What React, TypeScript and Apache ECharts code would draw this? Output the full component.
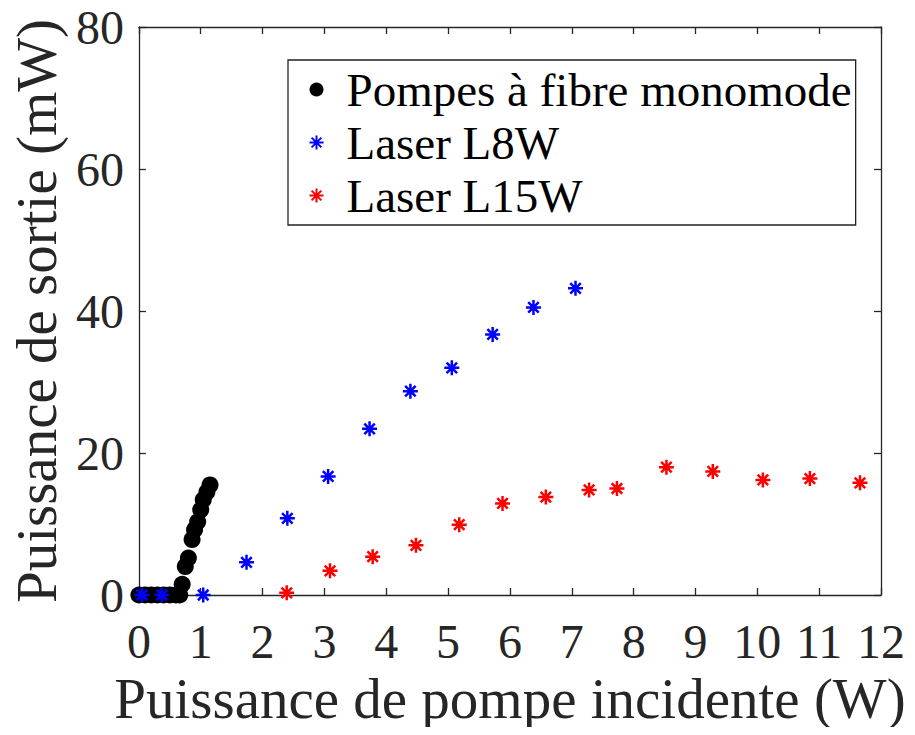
import React, { useEffect, useRef } from "react";
import * as echarts from "echarts";

const fibreX = [0, 0.1, 0.2, 0.3, 0.4, 0.5, 0.6, 0.66, 0.7, 0.75, 0.8, 0.86, 0.9, 0.95, 1.0, 1.04, 1.1, 1.15];
const fibreY = [0, 0, 0, 0, 0, 0, 0, 0, 1.5, 4.0, 5.2, 7.8, 9.2, 10.3, 12.0, 13.4, 14.5, 15.5];

const l8X = [0.05, 0.37, 1.04, 1.74, 2.4, 3.06, 3.73, 4.39, 5.06, 5.72, 6.38, 7.06];
const l8Y = [0, 0, 0, 4.6, 10.8, 16.7, 23.4, 28.7, 32.0, 36.7, 40.5, 43.2];

const l15X = [2.39, 3.09, 3.78, 4.48, 5.18, 5.88, 6.58, 7.28, 7.73, 8.53, 9.28, 10.09, 10.85, 11.66];
const l15Y = [0.3, 3.4, 5.4, 7.0, 9.9, 12.9, 13.8, 14.8, 15.0, 18.0, 17.4, 16.2, 16.4, 15.8];

const xTicks = [0, 1, 2, 3, 4, 5, 6, 7, 8, 9, 10, 11, 12];
const yTicks = [0, 20, 40, 60, 80];

const seriesNames = ["Pompes à fibre monomode", "Laser L8W", "Laser L15W"];
const xTitle = "Puissance de pompe incidente (W)";
const yTitle = "Puissance de sortie (mW)";

const STAR = "path://M0,-10L0,10M-10,0L10,0M-7,-7L7,7M-7,7L7,-7";
const FONT = "Liberation Serif";
const AXIS = "#262626";

const zip = (xs: number[], ys: number[]) => xs.map((x, i) => [x, ys[i]]);

export default function App() {
  const ref = useRef<HTMLDivElement>(null);
  useEffect(() => {
    if (!ref.current) return;
    const chart = echarts.init(ref.current, undefined, { renderer: "svg" });
    const common = {
      axisLine: { show: true, onZero: false, lineStyle: { color: AXIS, width: 1.3 } },
      axisTick: { show: true, inside: true, length: 7, lineStyle: { color: AXIS, width: 1.3 } },
      splitLine: { show: false },
    };
    chart.setOption({
      animation: false,
      backgroundColor: "#fff",
      textStyle: { fontFamily: FONT },
      grid: { left: 137, right: 34, top: 27, bottom: 140, containLabel: false },
      legend: {
        orient: "vertical",
        left: 288,
        top: 60,
        padding: [6, 4, 6, 19],
        borderColor: "#222",
        borderWidth: 1.3,
        backgroundColor: "#fff",
        itemGap: 6,
        itemWidth: 14,
        itemHeight: 14,
        textStyle: { fontFamily: FONT, fontSize: 47, color: "#000", padding: [0, 0, 0, 18] },
        data: [
          { name: seriesNames[0], icon: "circle", itemStyle: { color: "#000" } },
          { name: seriesNames[1], icon: STAR, itemStyle: { color: "none", borderColor: "#0000ff", borderWidth: 2 } },
          { name: seriesNames[2], icon: STAR, itemStyle: { color: "none", borderColor: "#ff0000", borderWidth: 2 } },
        ],
      },
      xAxis: [
        {
          ...common,
          type: "value",
          min: 0,
          max: 12,
          interval: 1,
          position: "bottom",
          axisLabel: { fontFamily: FONT, fontSize: 48, color: AXIS, margin: 22, formatter: (v: number) => (xTicks.includes(v) ? String(v) : "") },
          name: xTitle,
          nameLocation: "middle",
          nameGap: 53,
          nameTextStyle: { fontFamily: FONT, fontSize: 57, color: AXIS },
        },
        {
          ...common,
          type: "value",
          min: 0,
          max: 12,
          interval: 1,
          position: "top",
          axisLabel: { show: false },
        },
      ],
      yAxis: [
        {
          ...common,
          type: "value",
          min: 0,
          max: 80,
          interval: 20,
          position: "left",
          axisLabel: { fontFamily: FONT, fontSize: 48, color: AXIS, margin: 15, formatter: (v: number) => (yTicks.includes(v) ? String(v) : "") },
          name: yTitle,
          nameLocation: "middle",
          nameGap: 70,
          nameTextStyle: { fontFamily: FONT, fontSize: 57, color: AXIS },
        },
        {
          ...common,
          type: "value",
          min: 0,
          max: 80,
          interval: 20,
          position: "right",
          axisLabel: { show: false },
        },
      ],
      series: [
        {
          name: seriesNames[0],
          type: "scatter",
          data: zip(fibreX, fibreY),
          symbol: "circle",
          symbolSize: 17,
          itemStyle: { color: "#000", opacity: 1 },
          z: 3,
        },
        {
          name: seriesNames[1],
          type: "scatter",
          data: zip(l8X, l8Y),
          symbol: STAR,
          symbolSize: 15,
          itemStyle: { color: "none", borderColor: "#0000ff", borderWidth: 2.5, opacity: 1 },
          z: 4,
        },
        {
          name: seriesNames[2],
          type: "scatter",
          data: zip(l15X, l15Y),
          symbol: STAR,
          symbolSize: 15,
          itemStyle: { color: "none", borderColor: "#ff0000", borderWidth: 2.5, opacity: 1 },
          z: 4,
        },
      ],
    });
    return () => chart.dispose();
  }, []);
  return <div ref={ref} style={{ width: 915, height: 735, margin: -8 }} />;
}
